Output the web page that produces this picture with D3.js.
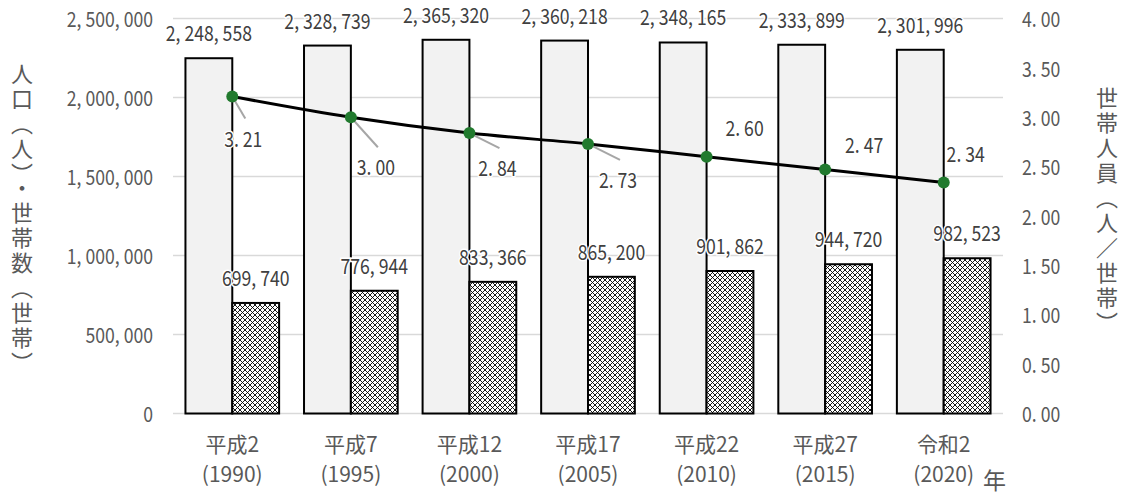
<!DOCTYPE html>
<html>
<head>
<meta charset="utf-8">
<script src="https://cdn.jsdelivr.net/npm/d3@7"></script>
<style>
body { margin: 0; background: #fff; }
text { font-family: "Noto Sans CJK JP", "Noto Sans", sans-serif; }
</style>
</head>
<body>
<svg id="chart" width="1126" height="495"></svg>
<script>
// data
const eras = ["平成2", "平成7", "平成12", "平成17", "平成22", "平成27", "令和2"];
const years = ["(1990)", "(1995)", "(2000)", "(2005)", "(2010)", "(2015)", "(2020)"];
const population = [2248558, 2328739, 2365320, 2360218, 2348165, 2333899, 2301996];
const households = [699740, 776944, 833366, 865200, 901862, 944720, 982523];
const perHousehold = [3.21, 3.00, 2.84, 2.73, 2.60, 2.47, 2.34];
const leftTicks = [0, 500000, 1000000, 1500000, 2000000, 2500000];
const rightTicks = [0, 0.5, 1, 1.5, 2, 2.5, 3, 3.5, 4];

// where the 世帯人員 labels sit relative to their point (dx, dy), and if a leader line is drawn
const ratioLabelPos = [[11, 50, 1], [25, 58, 1], [28, 43, 1], [30, 44, 1], [38, -21, 0], [39, -17, 0], [22, -20, 0]];

const svg = d3.select("#chart");
const plotLeft = 173, plotRight = 1003, plotTop = 18.5, plotBottom = 413.5;
const sx = 0.84; // digits in the original font are narrow

const x = d3.scaleBand().domain(eras).range([plotLeft, plotRight]);
const yL = d3.scaleLinear().domain([0, 2500000]).range([plotBottom, plotTop]);
const yR = d3.scaleLinear().domain([0, 4]).range([plotBottom, plotTop]);
const bw = x.bandwidth() * 0.395;
const cx = d => x(d) + x.bandwidth() / 2;

const fmtN = v => d3.format(",")(v).replace(/,/g, ", ");
const fmtR = v => d3.format(".2f")(v).replace(".", ". ");

// hatch for 世帯数 bars
const pat = svg.append("defs").append("pattern")
    .attr("id", "hatch")
    .attr("patternUnits", "userSpaceOnUse")
    .attr("width", 5).attr("height", 5);
pat.append("rect").attr("width", 5).attr("height", 5).attr("fill", "#fff");
pat.append("path").attr("d", "M0,0L5,5M5,0L0,5M-1,4L1,6M4,-1L6,1")
    .attr("stroke", "#000").attr("stroke-width", 0.9);

// grid
svg.append("g").selectAll("line")
    .data(leftTicks)
    .enter().append("line")
    .attr("x1", plotLeft).attr("x2", plotRight)
    .attr("y1", d => yL(d)).attr("y2", d => yL(d))
    .attr("stroke", "#d9d9d9").attr("stroke-width", 1.5);

// tick labels
svg.append("g").selectAll("text")
    .data(leftTicks)
    .enter().append("text")
    .attr("transform", d => `translate(153,${yL(d)}) scale(${sx},1)`)
    .attr("text-anchor", "end")
    .attr("dominant-baseline", "central")
    .attr("font-size", 21)
    .attr("fill", "#595959")
    .text(d => fmtN(d));

svg.append("g").selectAll("text")
    .data(rightTicks)
    .enter().append("text")
    .attr("transform", d => `translate(1022,${yR(d)}) scale(${sx},1)`)
    .attr("text-anchor", "start")
    .attr("dominant-baseline", "central")
    .attr("font-size", 21)
    .attr("fill", "#595959")
    .text(d => fmtR(d));

// bars
svg.append("g").selectAll("rect")
    .data(eras)
    .enter().append("rect")
    .attr("x", d => cx(d) - bw)
    .attr("y", (d, i) => yL(population[i]))
    .attr("width", bw)
    .attr("height", (d, i) => plotBottom - yL(population[i]))
    .attr("fill", "#f2f2f2")
    .attr("stroke", "#000").attr("stroke-width", 2);

svg.append("g").selectAll("rect")
    .data(eras)
    .enter().append("rect")
    .attr("x", d => cx(d))
    .attr("y", (d, i) => yL(households[i]))
    .attr("width", bw)
    .attr("height", (d, i) => plotBottom - yL(households[i]))
    .attr("fill", "url(#hatch)")
    .attr("stroke", "#000").attr("stroke-width", 2);

// bar labels
function barLabels(vals, off) {
    svg.append("g").selectAll("text")
        .data(eras)
        .enter().append("text")
        .attr("transform", (d, i) => `translate(${cx(d) + off},${yL(vals[i]) - 17}) scale(${sx},1)`)
        .attr("text-anchor", "middle")
        .attr("font-size", 21)
        .attr("fill", "#404040")
        .attr("stroke", "#fff").attr("stroke-width", 3)
        .attr("paint-order", "stroke")
        .text((d, i) => fmtN(vals[i]));
}
barLabels(population, -bw / 2);
barLabels(households, bw / 2);

// 世帯人員 line
const line = d3.line()
    .x(d => cx(d))
    .y((d, i) => yR(perHousehold[i]))
    .curve(d3.curveMonotoneX);

svg.append("path")
    .datum(eras)
    .attr("d", line)
    .attr("fill", "none")
    .attr("stroke", "#000").attr("stroke-width", 3);

// leader lines
svg.append("g").selectAll("line")
    .data(eras.filter((d, i) => ratioLabelPos[i][2]))
    .enter().append("line")
    .attr("x1", d => cx(d))
    .attr("y1", d => yR(perHousehold[eras.indexOf(d)]))
    .attr("x2", d => cx(d) + ratioLabelPos[eras.indexOf(d)][0] + 2)
    .attr("y2", d => yR(perHousehold[eras.indexOf(d)]) + ratioLabelPos[eras.indexOf(d)][1] - 28)
    .attr("stroke", "#a6a6a6").attr("stroke-width", 2);

svg.append("g").selectAll("circle")
    .data(eras)
    .enter().append("circle")
    .attr("cx", d => cx(d))
    .attr("cy", (d, i) => yR(perHousehold[i]))
    .attr("r", 6)
    .attr("fill", "#217a2e");

svg.append("g").selectAll("text")
    .data(eras)
    .enter().append("text")
    .attr("transform", (d, i) => `translate(${cx(d) + ratioLabelPos[i][0]},${yR(perHousehold[i]) + ratioLabelPos[i][1]}) scale(${sx},1)`)
    .attr("text-anchor", "middle")
    .attr("font-size", 21)
    .attr("fill", "#404040")
    .attr("stroke", "#fff").attr("stroke-width", 3)
    .attr("paint-order", "stroke")
    .text((d, i) => fmtR(perHousehold[i]));

// category labels
const xl = svg.append("g").selectAll("text")
    .data(eras)
    .enter().append("text")
    .attr("text-anchor", "middle")
    .attr("font-size", 21)
    .attr("fill", "#595959");
xl.append("tspan")
    .attr("x", d => cx(d)).attr("y", 452)
    .text(d => d);
xl.append("tspan")
    .attr("x", d => cx(d)).attr("y", 482)
    .text((d, i) => years[i]);

svg.append("text")
    .attr("x", 983).attr("y", 489)
    .attr("font-size", 23)
    .attr("fill", "#595959")
    .text("年");

// axis titles
svg.append("text")
    .attr("x", 22).attr("y", 220)
    .attr("writing-mode", "vertical-rl")
    .attr("text-anchor", "middle")
    .attr("font-size", 22)
    .attr("letter-spacing", 3)
    .attr("fill", "#595959")
    .text("人口（人）・世帯数（世帯）");

svg.append("text")
    .attr("x", 1107).attr("y", 212)
    .attr("writing-mode", "vertical-rl")
    .attr("text-anchor", "middle")
    .attr("font-size", 22)
    .attr("letter-spacing", 3)
    .attr("fill", "#595959")
    .text("世帯人員（人／世帯）");
</script>
</body>
</html>
